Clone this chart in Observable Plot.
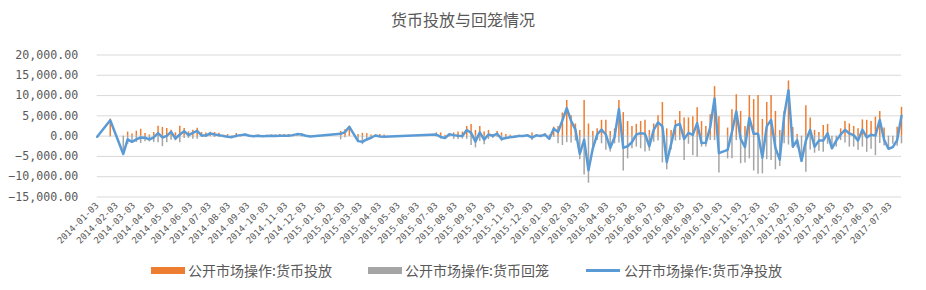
<!DOCTYPE html>
<html><head><meta charset="utf-8">
<script src="https://cdn.jsdelivr.net/npm/d3@7"></script>
<script src="https://cdn.jsdelivr.net/npm/@observablehq/plot@0.6"></script>
<style>
body{margin:0;background:#fff;}
#wrap{position:relative;width:926px;height:290px;overflow:hidden;font-family:"Noto Sans CJK SC",sans-serif;color:#595959;}
#title{position:absolute;left:0;width:926px;top:9px;text-align:center;font-size:16px;line-height:20px;}
#chart{position:absolute;left:0;top:0;}
.lg{position:absolute;top:261px;font-size:14px;line-height:18px;white-space:nowrap;}
.sw{position:absolute;}
</style>
</head><body>
<div id="wrap">
<div id="chart"></div>
<div id="title">货币投放与回笼情况</div>
<div id="legend"></div>
</div>
<script>
const seriesNames = ["公开市场操作:货币投放", "公开市场操作:货币回笼", "公开市场操作:货币净投放"];
const seriesColors = ["#ED7D31", "#A5A5A5", "#5B9BD5"];

const dates = [
"2014-01-03","2014-01-24","2014-02-14","2014-02-21","2014-02-28","2014-03-07","2014-03-14","2014-03-21","2014-03-28",
"2014-04-04","2014-04-11","2014-04-18","2014-04-25","2014-05-02","2014-05-09","2014-05-16","2014-05-23","2014-05-30",
"2014-06-06","2014-06-13","2014-06-20","2014-06-27","2014-07-04","2014-07-11","2014-07-18","2014-07-25",
"2014-08-01","2014-08-08","2014-08-15","2014-08-22","2014-08-29","2014-09-05","2014-09-12","2014-09-19","2014-09-26",
"2014-10-03","2014-10-10","2014-10-17","2014-10-24","2014-10-31","2014-11-07","2014-11-14","2014-11-21","2014-11-28",
"2014-12-05","2014-12-12",
"2015-01-30","2015-02-06","2015-02-13","2015-02-27","2015-03-06","2015-03-13","2015-03-20","2015-03-27","2015-04-03","2015-04-10",
"2015-07-03","2015-07-10","2015-07-17","2015-07-24","2015-07-31","2015-08-07","2015-08-14","2015-08-21","2015-08-28",
"2015-09-04","2015-09-11","2015-09-18","2015-09-25","2015-10-02","2015-10-09","2015-10-16","2015-10-23","2015-10-30",
"2015-11-06","2015-11-13","2015-11-20","2015-11-27","2015-12-04","2015-12-11","2015-12-18","2015-12-25",
"2016-01-01","2016-01-08","2016-01-15","2016-01-22","2016-01-29","2016-02-05","2016-02-12","2016-02-19","2016-02-26",
"2016-03-04","2016-03-11","2016-03-18","2016-03-25","2016-04-01","2016-04-08","2016-04-15","2016-04-22","2016-04-29",
"2016-05-06","2016-05-13","2016-05-20","2016-05-27","2016-06-03","2016-06-10","2016-06-17","2016-06-24",
"2016-07-01","2016-07-08","2016-07-15","2016-07-22","2016-07-29","2016-08-05","2016-08-12","2016-08-19","2016-08-26",
"2016-09-02","2016-09-09","2016-09-16","2016-09-23","2016-09-30","2016-10-14","2016-10-21","2016-10-28",
"2016-11-04","2016-11-11","2016-11-18","2016-11-25","2016-12-02","2016-12-09","2016-12-16","2016-12-23","2016-12-30",
"2017-01-06","2017-01-13","2017-01-20","2017-01-27","2017-02-03","2017-02-10","2017-02-17","2017-02-24",
"2017-03-03","2017-03-10","2017-03-17","2017-03-24","2017-03-31","2017-04-07","2017-04-14","2017-04-21","2017-04-28",
"2017-05-05","2017-05-12","2017-05-19","2017-05-26","2017-06-02","2017-06-09","2017-06-16","2017-06-23","2017-06-30",
"2017-07-07","2017-07-14","2017-07-21"
];

// 货币投放
const injection = [
0,4200,0,1000,500,1230,1700,650,300,
900,2460,2130,1900,1480,820,2460,1900,1060,
1480,1970,900,800,980,900,740,200,
400,100,650,400,500,200,100,300,100,
200,300,300,400,400,400,400,500,600,
100,100,
1150,1560,2400,400,700,600,300,300,400,300,
800,800,200,600,800,1000,1000,2400,2900,
1400,2400,1000,1400,400,1150,800,400,200,
100,200,200,300,800,300,300,600,
300,2200,2400,5700,8800,5000,3000,1400,8800,
3000,1150,1800,3900,3900,1150,1800,8800,5800,
3600,2400,2900,3600,3900,1400,3000,5000,
8300,1800,1400,3900,6100,4500,4500,4800,7000,
3600,2400,5300,12200,4800,2000,6500,10200,
6100,2400,10000,9000,10000,4100,8300,10000,6100,
1400,6000,13600,2100,400,0,7500,4500,
1400,900,2600,2900,0,0,1800,3600,3000,
2400,1800,4000,3900,3600,4700,6100,2000,0,
0,2200,7100
];

// 货币回笼
const withdrawal = [
150,200,4500,2000,1800,1560,1800,1400,1400,
1560,1650,2600,1650,1000,1150,1650,570,570,
740,740,330,330,160,330,330,200,
500,400,400,200,100,100,100,200,100,
150,200,250,300,300,300,150,0,200,
100,200,
900,400,100,1500,2100,1200,800,200,400,500,
200,700,800,200,800,800,700,800,2300,
2900,1300,2100,800,600,300,1300,700,400,
300,100,100,100,1100,100,300,200,
800,300,1900,2300,1600,1700,1200,5800,9600,
11600,3100,1100,1900,3500,3900,1900,1700,8600,
5600,3100,2700,3100,3900,3700,1500,1200,
6600,8300,3400,1200,1100,6000,2000,4800,5200,
2700,2700,1100,1100,9100,5600,5600,1100,
6800,6600,5600,8600,9400,9300,5800,6000,8300,
7500,1900,2200,2500,2900,6100,8900,3400,
4200,3700,4000,2000,3100,2700,1100,1700,2700,
2700,3500,2700,4000,3200,4800,1800,2400,3000,
2000,2500,1900
];

// 货币净投放
const netInjection = [
-150,3900,-4400,-820,-1400,-800,-330,-400,-800,
-330,740,-330,80,1060,-570,400,1230,250,
820,1300,160,160,650,400,250,50,
-160,-250,100,250,400,100,0,100,0,
50,100,50,100,100,100,250,500,400,
100,-100,
570,1000,2300,-1230,-1400,-820,-400,160,-80,-160,
400,-200,-450,450,250,100,50,1500,800,
-1350,950,-850,400,80,600,-700,-450,-250,
-150,50,50,200,-350,200,0,400,
-650,1850,1000,3900,6900,3800,1600,-4400,-900,
-8400,-3000,400,1600,400,-2900,-250,6700,-2900,
-2500,-1500,400,740,570,-2500,1560,3400,
2400,-6400,-2000,2600,3000,-700,800,300,3200,
-1700,-1600,2200,9300,-4200,-3400,1000,6100,
-650,-2700,4500,570,570,-5300,2400,4000,-2900,
-5800,5000,11300,-2600,-1000,-6100,-1150,1560,
-2600,-1100,-1100,700,-3000,-1100,400,1560,650,
250,-1100,1600,-300,350,130,4000,-900,-3100,
-2700,-1000,5000
];

const xTickLabels = [
"2014-01-03","2014-02-03","2014-03-03","2014-04-03","2014-05-03","2014-06-03","2014-07-03","2014-08-03","2014-09-03","2014-10-03","2014-11-03","2014-12-03",
"2015-01-03","2015-02-03","2015-03-03","2015-04-03","2015-05-03","2015-06-03","2015-07-03","2015-08-03","2015-09-03","2015-10-03","2015-11-03","2015-12-03",
"2016-01-03","2016-02-03","2016-03-03","2016-04-03","2016-05-03","2016-06-03","2016-07-03","2016-08-03","2016-09-03","2016-10-03","2016-11-03","2016-12-03",
"2017-01-03","2017-02-03","2017-03-03","2017-04-03","2017-05-03","2017-06-03","2017-07-03"
];
const yTicks = [-15000, -10000, -5000, 0, 5000, 10000, 15000, 20000];
const xDomain = ["2014-01-03", "2017-07-21"];

const parse = s => new Date(s + "T00:00:00Z");
const rows = dates.map((d, i) => ({date: parse(d), inj: injection[i], wd: withdrawal[i], net: netInjection[i]}));
const fmtY = d3.format(",.2f");

const plot = Plot.plot({
  width: 926, height: 290,
  marginLeft: 96.7, marginRight: 25, marginTop: 54.5, marginBottom: 93.5,
  style: {fontFamily: "DejaVu Sans Mono", color: "#595959", background: "transparent"},
  x: {type: "utc", domain: xDomain.map(parse)},
  y: {domain: [-15000, 20000]},
  marks: [
    Plot.gridY(yTicks, {stroke: "#d9d9d9", strokeOpacity: 1, strokeWidth: 1}),
    Plot.axisY(yTicks, {tickSize: 0, tickPadding: 19, tickFormat: fmtY, fontSize: 11.6, fill: "#595959"}),
    Plot.axisX(xTickLabels.map(parse), {tickSize: 0, tickPadding: 7, tickRotate: -45, tickFormat: d3.utcFormat("%Y-%m-%d"), fontSize: 9, fill: "#595959"}),
    Plot.ruleX(rows.filter(r => r.wd > 0), {x: "date", y1: 0, y2: r => -r.wd, stroke: seriesColors[1], strokeWidth: 1.5}),
    Plot.ruleX(rows.filter(r => r.inj > 0), {x: "date", y1: 0, y2: "inj", stroke: seriesColors[0], strokeWidth: 1.5}),
    Plot.line(rows, {x: "date", y: "net", stroke: seriesColors[2], strokeWidth: 2.5, strokeLinejoin: "round"})
  ]
});
document.getElementById("chart").append(plot);

// legend
const legend = document.getElementById("legend");
const items = [
  {sx: 151, tx: 188, kind: "rect"},
  {sx: 368, tx: 405, kind: "rect"},
  {sx: 586, tx: 624, kind: "line"}
];
items.forEach((it, i) => {
  const sw = document.createElement("div");
  sw.className = "sw";
  sw.style.left = it.sx + "px";
  sw.style.width = "34px";
  sw.style.background = seriesColors[i];
  if (it.kind === "rect") { sw.style.top = "267px"; sw.style.height = "7px"; }
  else { sw.style.top = "269px"; sw.style.height = "2.5px"; }
  legend.appendChild(sw);
  const t = document.createElement("div");
  t.className = "lg";
  t.style.left = it.tx + "px";
  t.textContent = seriesNames[i];
  legend.appendChild(t);
});
</script>
</body></html>
